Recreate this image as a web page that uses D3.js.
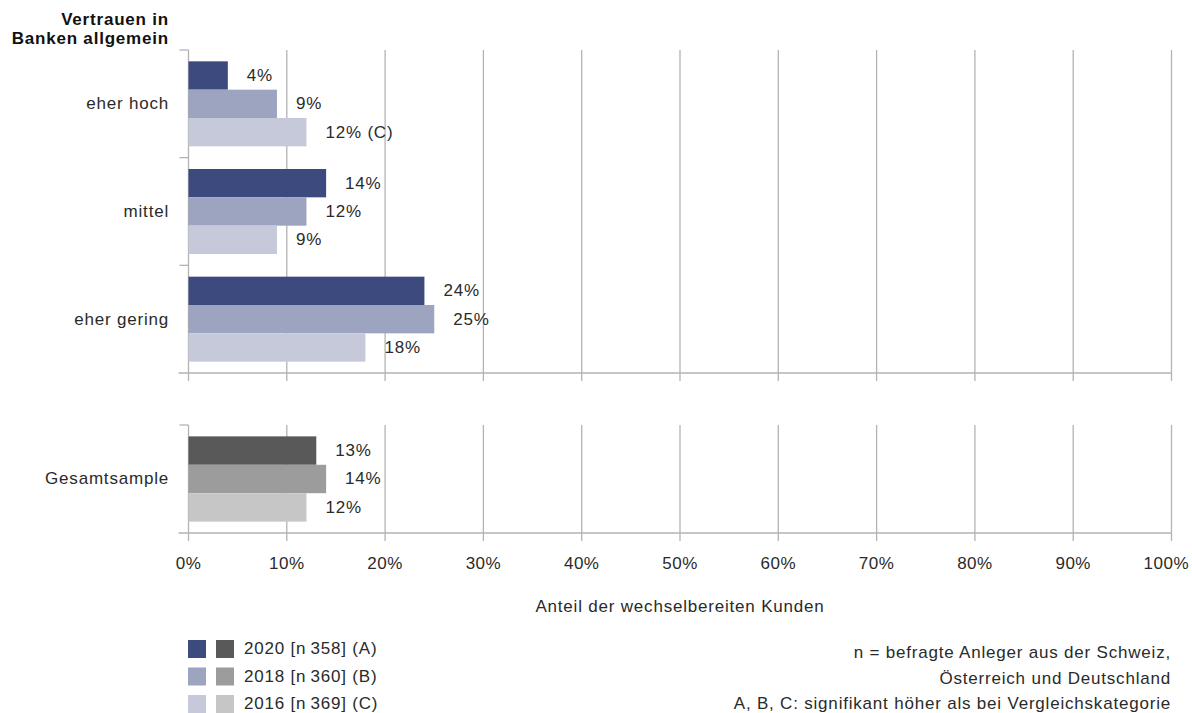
<!DOCTYPE html>
<html><head><meta charset="utf-8">
<script src="https://cdn.jsdelivr.net/npm/d3@7"></script>
<style>body{margin:0;background:#fff}svg{display:block}text{font-family:"Liberation Sans",Arial,sans-serif;letter-spacing:0.8px}</style>
</head><body><svg id="c" width="1192" height="713"></svg>
<script>
const categories = ["eher hoch","mittel","eher gering"];
const totalCategory = ["Gesamtsample"];
const seriesNames = ["2020 [n\u2009358] (A)","2018 [n\u2009360] (B)","2016 [n\u2009369] (C)"];
const v2020 = [4,14,24];
const v2018 = [9,12,25];
const v2016 = [12,9,18];
const notes2020 = ["","",""];
const notes2018 = ["","",""];
const notes2016 = [" (C)","",""];
const total = [13,14,12];
const xTicks = [0,10,20,30,40,50,60,70,80,90,100];
const blueColors = ["#3c4a7e","#9ca4c0","#c6c9da"];
const grayColors = ["#595959","#9c9c9c","#c6c6c6"];

const svg = d3.select("#c");
const x = d3.scaleLinear().domain([0,100]).range([188.5,1171.5]);
const gridC = "#b3b3b3";
const txt = "#2a2a2a";
const fs = 17;

function panel(cats, seriesVals, seriesNotes, colors, y0, y1){
  const y = d3.scaleBand().domain(cats).range([y0,y1]).paddingInner(0).paddingOuter(0);
  const inner = d3.scaleBand().domain([0,1,2]).range([0,y.bandwidth()]).paddingOuter(0.4).paddingInner(0);
  const g = svg.append("g");
  g.selectAll("line.grid").data(xTicks.slice(1)).join("line")
    .attr("x1",d=>x(d)).attr("x2",d=>x(d)).attr("y1",y0).attr("y2",y1+8)
    .attr("stroke",gridC).attr("stroke-width",1.3);
  g.append("line").attr("x1",x(0)).attr("x2",x(0)).attr("y1",y0).attr("y2",y1+8).attr("stroke",gridC).attr("stroke-width",1.3);
  const bounds = cats.map(c=>y(c));
  g.selectAll("line.yt").data(bounds).join("line")
    .attr("x1",x(0)-9).attr("x2",x(0)).attr("y1",d=>d).attr("y2",d=>d).attr("stroke",gridC).attr("stroke-width",1.3);
  g.append("line").attr("x1",x(0)-10).attr("x2",x(100)).attr("y1",y1).attr("y2",y1).attr("stroke",gridC).attr("stroke-width",1.6);
  seriesVals.forEach((vals,si)=>{
    cats.forEach((c,ci)=>{
      const by = y(c)+inner(si);
      g.append("rect").attr("x",x(0)).attr("y",by).attr("width",x(vals[ci])-x(0)).attr("height",inner.bandwidth()).attr("fill",colors[si]);
      g.append("text").attr("x",x(vals[ci])+19).attr("y",by+inner.bandwidth()/2+1).attr("dominant-baseline","middle")
        .attr("font-size",fs).attr("fill",txt).text(vals[ci]+"%"+(seriesNotes[si][ci]||""));
    });
  });
  g.selectAll("text.cat").data(cats).join("text").attr("x",169).attr("y",d=>y(d)+y.bandwidth()/2+1)
    .attr("text-anchor","end").attr("dominant-baseline","middle").attr("font-size",fs).attr("fill",txt).text(d=>d);
}
panel(categories,[v2020,v2018,v2016],[notes2020,notes2018,notes2016],blueColors,50,373);
panel(totalCategory,[[total[0]],[total[1]],[total[2]]],[[""],[""],[""]],grayColors,425,533);

svg.selectAll("text.xt").data(xTicks).join("text")
  .attr("x",d=>d===100 ? 1189 : x(d)).attr("y",569)
  .attr("text-anchor",d=>d===100 ? "end" : "middle")
  .style("letter-spacing","0.5px")
  .attr("font-size",fs).attr("fill",txt).text(d=>d+"%");
svg.append("text").attr("x",680).attr("y",612).attr("text-anchor","middle").attr("font-size",fs).attr("fill",txt).text("Anteil der wechselbereiten Kunden");

svg.append("text").attr("x",169).attr("y",25).attr("text-anchor","end").attr("font-size",fs).attr("font-weight","bold").attr("fill","#111").text("Vertrauen in");
svg.append("text").attr("x",169).attr("y",44).attr("text-anchor","end").attr("font-size",fs).attr("font-weight","bold").attr("fill","#111").text("Banken allgemein");

seriesNames.forEach((n,i)=>{
  const ly = 640 + i*27.5;
  svg.append("rect").attr("x",188).attr("y",ly).attr("width",18).attr("height",18).attr("fill",blueColors[i]);
  svg.append("rect").attr("x",216).attr("y",ly).attr("width",18).attr("height",18).attr("fill",grayColors[i]);
  svg.append("text").attr("x",244).attr("y",ly+10).attr("dominant-baseline","middle").attr("font-size",fs).attr("fill",txt).text(n);
});
const notesRight = ["n = befragte Anleger aus der Schweiz,","Österreich und Deutschland","A, B, C: signifikant höher als bei Vergleichskategorie"];
notesRight.forEach((t,i)=>{
  svg.append("text").attr("x",1171).attr("y",658+i*25.5).attr("text-anchor","end").attr("font-size",fs).attr("fill",txt).text(t);
});
</script></body></html>
